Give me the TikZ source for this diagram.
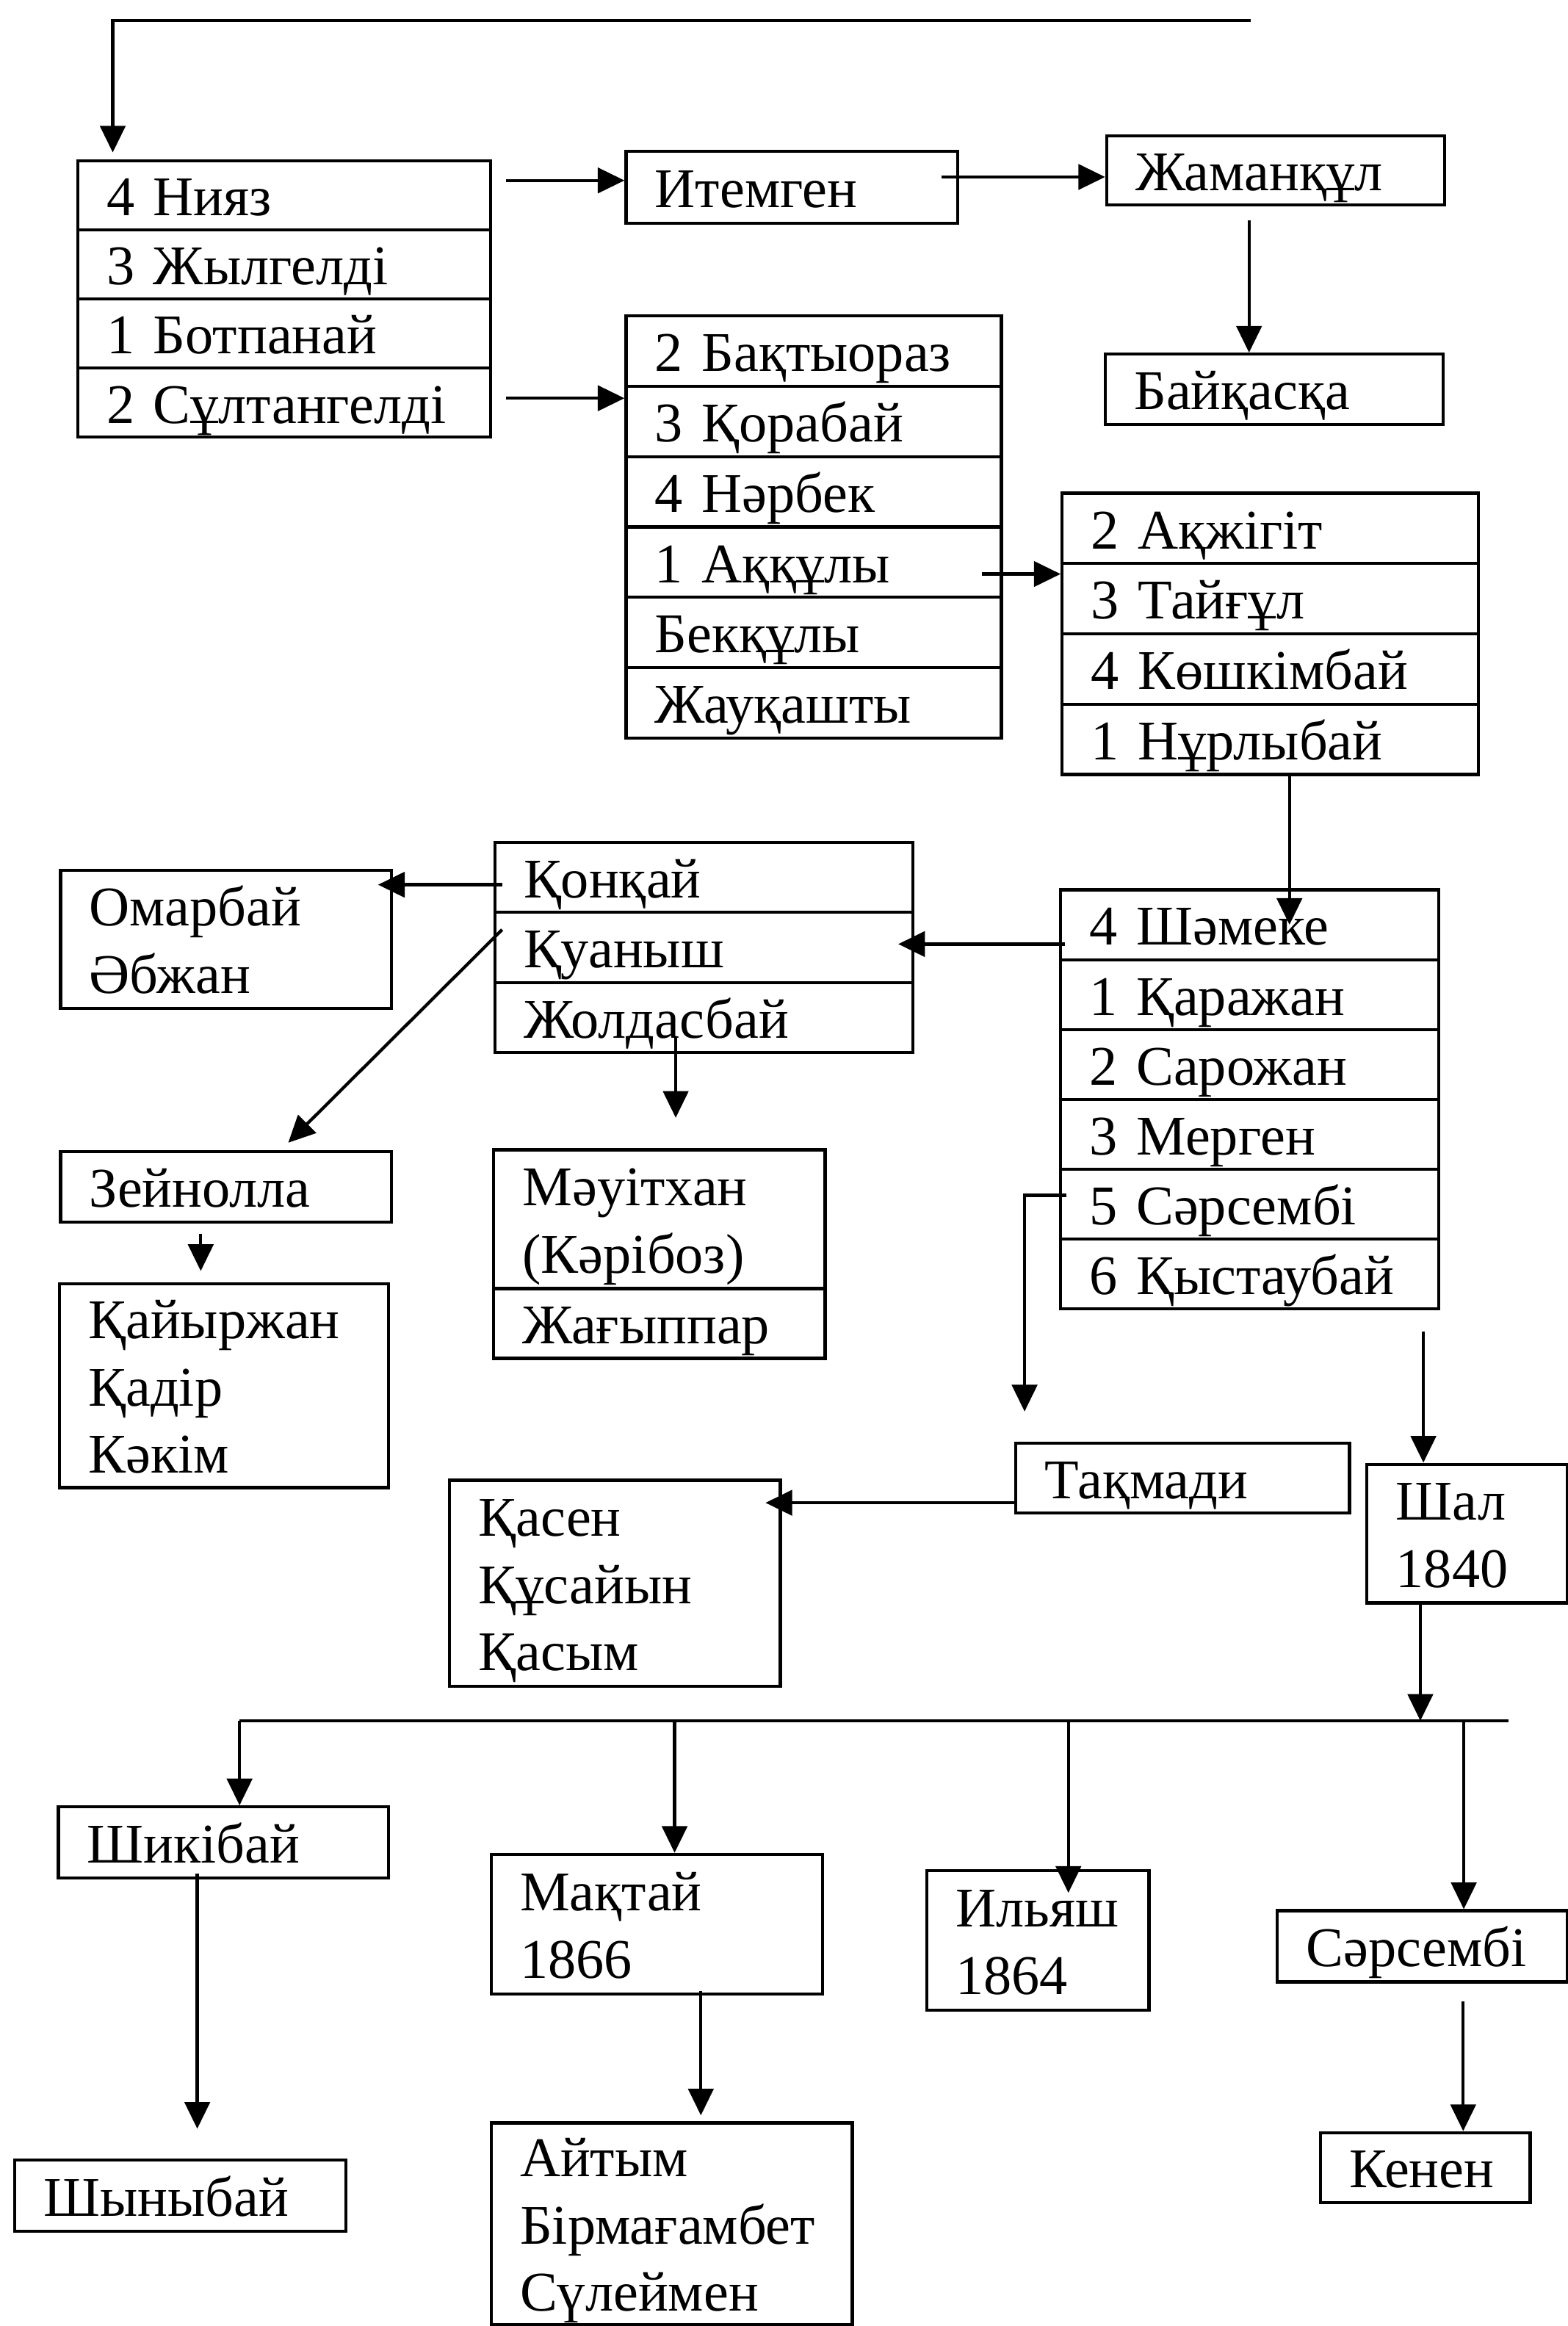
\documentclass[tikz,border=0pt]{standalone}
\usepackage{fontspec}
\setmainfont{Liberation Serif}
\usetikzlibrary{arrows.meta,calc}
\hyphenpenalty=10000
\tikzset{kzrow/.style={draw,anchor=north west,align=left,text width=#1,inner xsep=0.39cm,
           inner ysep=0pt,text height=0.55cm,text depth=0pt,minimum height=0.948cm},
         kztwo/.style={text depth=0.91cm},
         kzthree/.style={text depth=1.82cm},
         kzarr/.style={-{Triangle[length=0.36cm,width=0.34cm]}}}

\begin{document}
\begin{tikzpicture}[x=0.02cm, y=-0.02cm, line width=1.2pt,
    every node/.style={font=\fontsize{21.5}{25.8}\selectfont}]
  \useasboundingbox (0,0) rectangle (1057,1568);
  % upper part
  \foreach \t [count=\i] in {4~Нияз, 3~Жылгелді, 1~Ботпанай, 2~Сұлтангелді}
    \node[kzrow=4.79cm, minimum height=0.932cm] (N\i) at (51.4,{107.3+46.6*(\i-1)}) {\t};
  \node[kzrow=3.69cm, minimum height=0.97cm] (It) at (421,101) {Итемген};
  \node[kzrow=3.78cm, minimum height=0.93cm] (Zh) at (745,90.5) {Жаманқұл};
  \node[kzrow=3.78cm, minimum height=0.95cm] (Bq) at (744,237.7) {Байқасқа};
  \foreach \t [count=\i] in {2~Бақтыораз, 3~Қорабай, 4~Нәрбек, 1~Аққұлы, Бекқұлы, Жауқашты}
    \node[kzrow=4.28cm] (B\i) at (421,{212+47.4*(\i-1)}) {\t};
  \foreach \t [count=\i] in {2~Ақжігіт, 3~Тайғұл, 4~Көшкімбай, 1~Нұрлыбай}
    \node[kzrow=4.83cm] (A\i) at (715,{331.4+47.4*(\i-1)}) {\t};
  % middle part
  \foreach \t [count=\i] in {4~Шәмеке, 1~Қаражан, 2~Сарожан, 3~Мерген, 5~Сәрсембі, 6~Қыстаубай}
    \node[kzrow=4.32cm, minimum height=0.942cm] (S\i) at (714,{598.8+47.1*(\i-1)}) {\t};
  \foreach \t [count=\i] in {Қонқай, Қуаныш, Жолдасбай}
    \node[kzrow=4.86cm, minimum height=0.946cm] (Q\i) at (332.5,{566.7+47.3*(\i-1)}) {\t};
  \node[kzrow=3.68cm, kztwo, minimum height=1.86cm] (Om) at (39.8,585.7) {Омарбай\\Әбжан};
  \node[kzrow=3.68cm, minimum height=0.95cm] (Ze) at (39.8,775.3) {Зейнолла};
  \node[kzrow=3.69cm, kztwo, minimum height=1.87cm] (M1) at (331.7,774) {Мәуітхан\\(Кәрібоз)};
  \node[kzrow=3.69cm, minimum height=0.94cm] (M2) at (331.7,867.7) {Жағыппар};
  \node[kzrow=3.66cm, kzthree, minimum height=2.75cm] (Ka) at (39,864.3) {Қайыржан\\Қадір\\Кәкім};
  \node[kzrow=3.72cm, minimum height=0.94cm] (Tq) at (683.7,972) {Тақмади};
  \node[kzrow=3.68cm, kzthree, minimum height=2.78cm] (Ks) at (302,996.8) {Қасен\\Құсайын\\Қасым};
  \node[kzrow=1.92cm, kztwo, minimum height=1.87cm] (Sh) at (920.5,986) {Шал\\1840};
  % lower part
  \node[kzrow=3.67cm, minimum height=0.96cm] (Sk) at (38.3,1217) {Шикібай};
  \node[kzrow=3.69cm, kztwo, minimum height=1.88cm] (Mk) at (330,1249) {Мақтай\\1866};
  \node[kzrow=2.22cm, kztwo, minimum height=1.88cm] (Il) at (623.6,1260) {Ильяш\\1864};
  \node[kzrow=3.13cm, minimum height=0.96cm] (Sr) at (860,1287) {Сәрсембі};
  \node[kzrow=3.69cm, minimum height=0.96cm] (Sn) at (8.7,1455) {Шыныбай};
  \node[kzrow=4.09cm, kzthree, minimum height=2.72cm] (Ay) at (330,1430) {Айтым\\Бірмағамбет\\Сүлеймен};
  \node[kzrow=2.05cm, minimum height=0.94cm] (Kn) at (889,1436.6) {Кенен};
  % links
  \coordinate (top) at (843,14);
  \draw[kzarr, shorten >=0.09cm] (top) -| ($(N1.north west)+(24.6,0)$);
  \draw[kzarr] ($(N1.east)+(9,-10)$) coordinate (a) -- (a -| It.west);
  \draw[kzarr] ($(N4.east)+(9,-3)$) coordinate (a) -- (a -| B2.west);
  \draw[kzarr] ($(It.east)+(-12,-7)$) coordinate (a) -- (a -| Zh.west);
  \draw[kzarr] ($(Zh.south)+(-18,9.5)$) coordinate (a) -- (a |- Bq.north);
  \draw[kzarr] ($(B4.east)+(-14,8)$) coordinate (a) -- (a -| A2.west);
  \draw[kzarr] ($(A4.south)+(13,0)$) coordinate (a) -- (a |- S1.center);
  \draw[kzarr] ($(S1.west)+(4,13)$) coordinate (a) -- ($(a -| Q2.east)+(-11,0)$);
  \draw[kzarr] ($(Q1.west)+(6,5)$) coordinate (a) -- ($(a -| Om.east)+(-10,0)$);
  \draw[kzarr] ($(Q2.west)+(6,-12)$) -- ($(Ze.north)+(42,-5)$);
  \draw[kzarr, shorten >=0.41cm] ($(Q3.center)+(-19,13)$) coordinate (a) -- (a |- M1.north);
  \draw[kzarr, shorten >=0.15cm] ($(Ze.south)+(-17,7)$) coordinate (a) -- (a |- Ka.north);
  \draw[kzarr, shorten >=0.41cm] ($(S5.west)+(5,-6)$) -| ($(Tq.north west)+(7,0)$);
  \draw[kzarr] ($(Tq.west)+(0,16.5)$) coordinate (a) -- ($(a -| Ks.east)+(-11,0)$);
  \draw[kzarr] ($(S6.south east)+(-11.5,14)$) coordinate (a) -- (a |- Sh.north);
  % children of Shal
  \coordinate (busL) at (161.5,1160);
  \coordinate (busR) at (1017,1160);
  \draw (busL) -- (busR);
  \draw[kzarr] ($(Sh.south west)+(37,0)$) coordinate (a) -- (a |- busR);
  \draw[kzarr] (busL) -- (busL |- Sk.north);
  \foreach \n/\dx/\dy in {Mk/12/0, Il/20.6/16, Sr/28/0} {
    \path ($(\n.north)+(\dx,\dy)$) coordinate (a);
    \draw[kzarr] (a |- busL) -- (a);
  }
  \draw[kzarr, shorten >=0.4cm] ($(Sk.south)+(-17.6,-4)$) coordinate (a) -- (a |- Sn.north);
  \draw[kzarr, shorten >=0.08cm] ($(Mk.south)+(29.7,-3)$) coordinate (a) -- (a |- Ay.north);
  \draw[kzarr] ($(Sr.south)+(27.6,12)$) coordinate (a) -- (a |- Kn.north);
\end{tikzpicture}
\end{document}
